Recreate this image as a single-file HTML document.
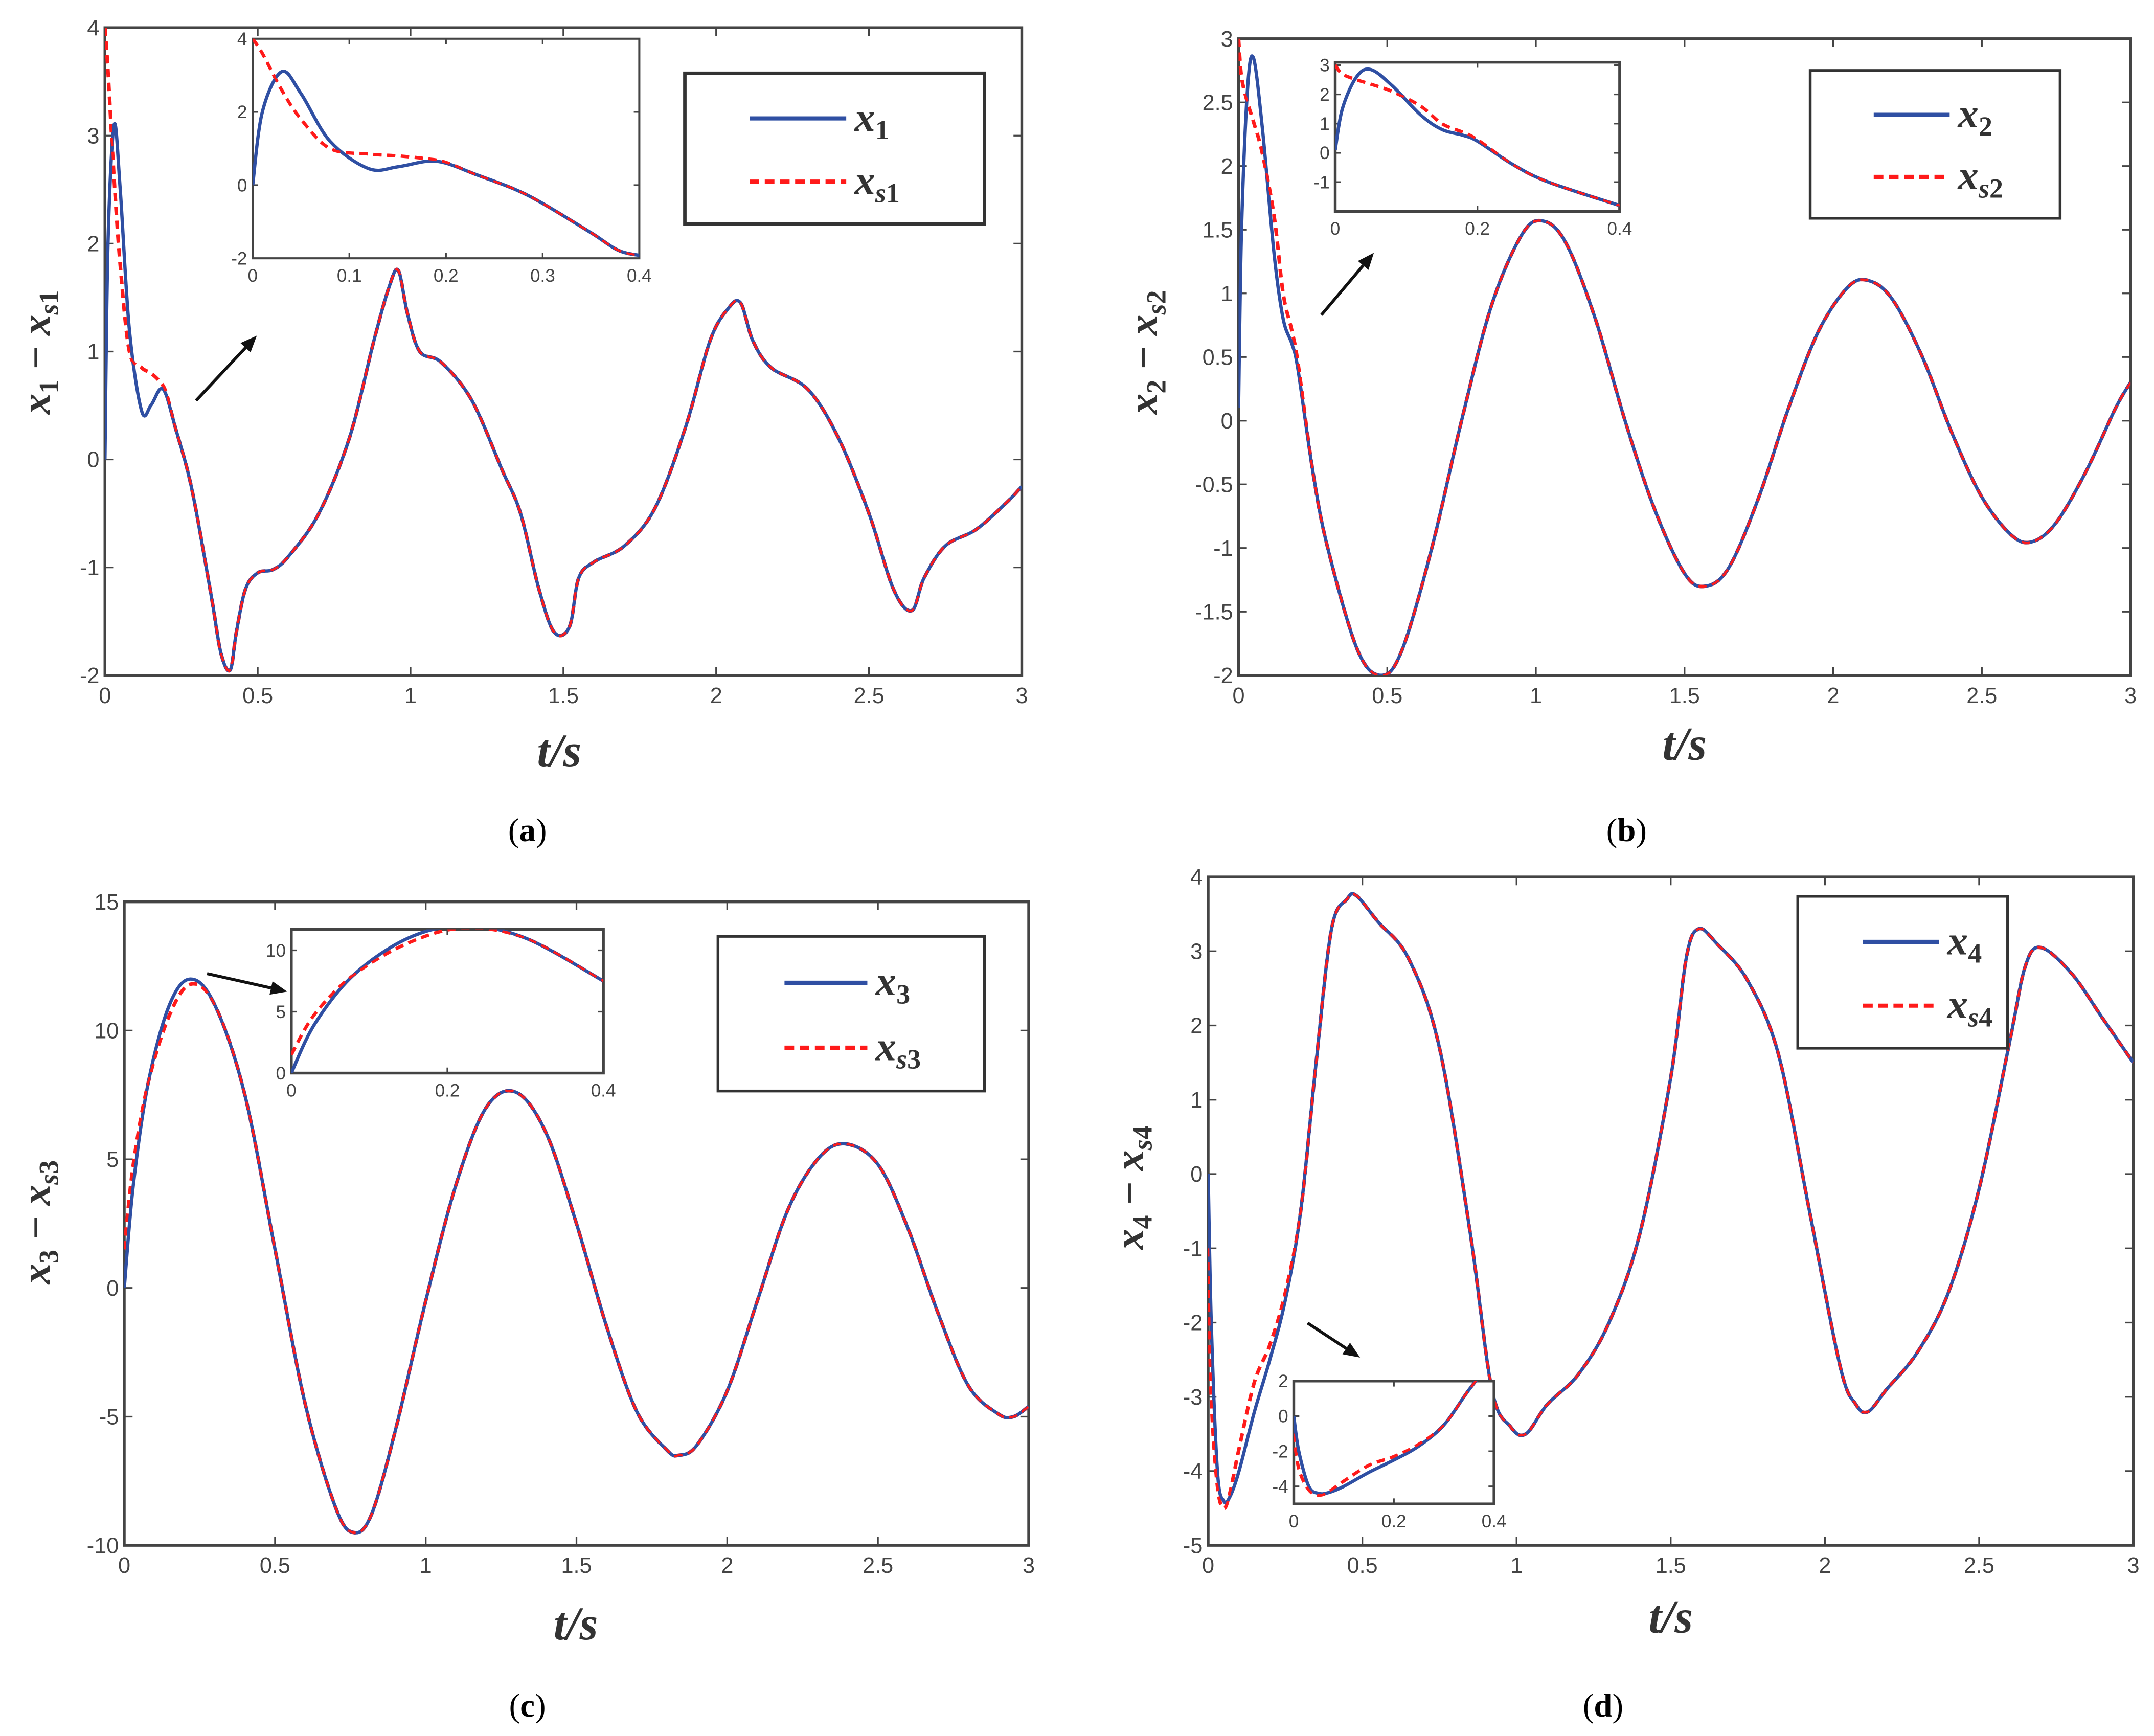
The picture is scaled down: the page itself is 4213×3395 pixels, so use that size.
<!DOCTYPE html>
<html><head><meta charset="utf-8"><title>x vs xs state comparison</title>
<style>
html,body{margin:0;padding:0;background:#fff;}
svg{display:block;}
.tick{font-family:"Liberation Sans",sans-serif;font-size:16px;fill:#444;}
.itick{font-family:"Liberation Sans",sans-serif;font-size:13px;fill:#444;}
.lab{font-family:"Liberation Serif",serif;font-style:italic;font-weight:bold;fill:#333;}
.cap{font-family:"Liberation Serif",serif;font-size:24px;fill:#000;}
</style></head>
<body>
<svg id="fig" width="4213" height="3395" viewBox="0 0 1560 1257" xmlns="http://www.w3.org/2000/svg"></svg>
<script>
// ---- data (a) ----
const tA = [0,0.01,0.03,0.05,0.08,0.12,0.15,0.18,0.2,0.23,0.27,0.3,0.35,0.38,0.41,0.43,0.46,0.5,0.55,0.6,0.7,0.8,0.88,0.93,0.96,0.99,1.03,1.1,1.2,1.3,1.36,1.42,1.47,1.52,1.55,1.6,1.7,1.8,1.9,1.98,2.04,2.08,2.12,2.18,2.3,2.4,2.5,2.58,2.64,2.68,2.75,2.85,2.95,3];
const x1 = [0,2.0,3.1,2.5,1.2,0.45,0.5,0.65,0.6,0.3,-0.1,-0.5,-1.3,-1.8,-1.95,-1.6,-1.2,-1.05,-1.02,-0.9,-0.5,0.2,1.1,1.6,1.75,1.35,1.0,0.9,0.55,-0.1,-0.5,-1.2,-1.6,-1.55,-1.1,-0.95,-0.8,-0.45,0.3,1.1,1.4,1.45,1.1,0.85,0.65,0.2,-0.5,-1.2,-1.4,-1.1,-0.8,-0.65,-0.4,-0.25];
const xs1 = [4,3.6,2.6,1.8,1.0,0.85,0.8,0.72,0.62,0.3,-0.1,-0.5,-1.3,-1.8,-1.95,-1.6,-1.2,-1.05,-1.02,-0.9,-0.5,0.2,1.1,1.6,1.75,1.35,1.0,0.9,0.55,-0.1,-0.5,-1.2,-1.6,-1.55,-1.1,-0.95,-0.8,-0.45,0.3,1.1,1.4,1.45,1.1,0.85,0.65,0.2,-0.5,-1.2,-1.4,-1.1,-0.8,-0.65,-0.4,-0.25];
const yTicksA = [-2,-1,0,1,2,3,4];
// ---- data (b) ----
const tB = [0,0.01,0.03,0.05,0.08,0.12,0.15,0.18,0.2,0.25,0.3,0.4,0.48,0.55,0.65,0.75,0.85,0.95,1.02,1.1,1.2,1.3,1.4,1.5,1.57,1.65,1.75,1.85,1.95,2.05,2.12,2.2,2.3,2.4,2.5,2.6,2.67,2.75,2.85,2.95,3];
const x2 = [0.1,1.5,2.6,2.85,2.3,1.3,0.8,0.6,0.4,-0.4,-1.0,-1.8,-2.0,-1.8,-1.0,0.0,0.9,1.45,1.57,1.4,0.8,0.0,-0.7,-1.2,-1.3,-1.15,-0.6,0.1,0.7,1.05,1.1,0.95,0.5,-0.1,-0.6,-0.9,-0.95,-0.8,-0.4,0.1,0.3];
const xs2 = [3.0,2.7,2.5,2.35,2.1,1.6,1.0,0.7,0.45,-0.4,-1.0,-1.8,-2.0,-1.8,-1.0,0.0,0.9,1.45,1.57,1.4,0.8,0.0,-0.7,-1.2,-1.3,-1.15,-0.6,0.1,0.7,1.05,1.1,0.95,0.5,-0.1,-0.6,-0.9,-0.95,-0.8,-0.4,0.1,0.3];
const yTicksB = [-2,-1.5,-1,-0.5,0,0.5,1,1.5,2,2.5,3];
// ---- data (c) ----
const tC = [0,0.03,0.08,0.15,0.22,0.3,0.4,0.5,0.6,0.7,0.76,0.82,0.9,1.0,1.1,1.2,1.3,1.4,1.5,1.6,1.7,1.8,1.84,1.9,2.0,2.1,2.2,2.3,2.39,2.5,2.6,2.7,2.8,2.9,2.95,3];
const x3 = [0,4,8,11,12,11,7.5,1.5,-4.5,-8.5,-9.5,-8.8,-5.5,-0.5,4,7,7.6,6,2.5,-1.5,-4.8,-6.3,-6.5,-6.1,-4,-0.5,3,5,5.6,4.8,2.3,-1,-3.8,-4.9,-5,-4.6];
const xs3 = [1.5,4.8,8,10.6,11.8,11,7.5,1.5,-4.5,-8.5,-9.5,-8.8,-5.5,-0.5,4,7,7.6,6,2.5,-1.5,-4.8,-6.3,-6.5,-6.1,-4,-0.5,3,5,5.6,4.8,2.3,-1,-3.8,-4.9,-5,-4.6];
const yTicksC = [-10,-5,0,5,10,15];
// ---- data (d) ----
const tD = [0,0.01,0.03,0.05,0.07,0.1,0.15,0.2,0.25,0.3,0.35,0.4,0.45,0.48,0.55,0.65,0.75,0.85,0.92,0.98,1.03,1.1,1.2,1.3,1.4,1.5,1.55,1.59,1.65,1.75,1.85,1.95,2.05,2.1,2.14,2.2,2.3,2.4,2.5,2.6,2.65,2.7,2.8,2.9,3];
const x4 = [0,-2,-4,-4.4,-4.35,-4.0,-3.2,-2.5,-1.7,-0.5,1.5,3.3,3.7,3.75,3.4,2.9,1.7,-0.8,-2.9,-3.4,-3.5,-3.1,-2.7,-2.0,-0.8,1.3,2.9,3.3,3.1,2.6,1.6,-0.5,-2.6,-3.1,-3.2,-2.9,-2.4,-1.6,-0.2,1.8,2.8,3.05,2.7,2.1,1.5];
const xs4 = [-1,-3,-4.2,-4.5,-4.3,-3.7,-2.8,-2.3,-1.6,-0.5,1.5,3.3,3.7,3.75,3.4,2.9,1.7,-0.8,-2.9,-3.4,-3.5,-3.1,-2.7,-2.0,-0.8,1.3,2.9,3.3,3.1,2.6,1.6,-0.5,-2.6,-3.1,-3.2,-2.9,-2.4,-1.6,-0.2,1.8,2.8,3.05,2.7,2.1,1.5];
const yTicksD = [-5,-4,-3,-2,-1,0,1,2,3,4];
const xTicks = [0,0.5,1,1.5,2,2.5,3];

const NS = "http://www.w3.org/2000/svg";
const fig = document.getElementById('fig');
const BLUE = '#2f4fa3', RED = '#ff1a1a', AX = '#444';
let clipId = 0;

function el(tag, attrs, parent){
  const e = document.createElementNS(NS, tag);
  for (const k in attrs) e.setAttribute(k, attrs[k]);
  (parent||fig).appendChild(e);
  return e;
}
function fmt(v){ return String(v); }
function smoothPath(pts){
  let d = 'M' + pts[0][0].toFixed(2) + ',' + pts[0][1].toFixed(2);
  for (let i=0;i<pts.length-1;i++){
    const p0 = pts[i-1]||pts[i], p1=pts[i], p2=pts[i+1], p3=pts[i+2]||p2;
    const c1=[p1[0]+(p2[0]-p0[0])/6, p1[1]+(p2[1]-p0[1])/6];
    const c2=[p2[0]-(p3[0]-p1[0])/6, p2[1]-(p3[1]-p1[1])/6];
    d += 'C'+c1[0].toFixed(2)+','+c1[1].toFixed(2)+' '+c2[0].toFixed(2)+','+c2[1].toFixed(2)+' '+p2[0].toFixed(2)+','+p2[1].toFixed(2);
  }
  return d;
}

function axes(g, box, xr, yr, xt, yt, cls, tl, lw){
  const sx = v => box.x0 + (v - xr[0])/(xr[1]-xr[0])*(box.x1-box.x0);
  const sy = v => box.y1 - (v - yr[0])/(yr[1]-yr[0])*(box.y1-box.y0);
  const fs = cls==='tick'?16:13;
  xt.forEach(v=>{
    const x = sx(v);
    const t1 = el('line',{x1:x,y1:box.y1,x2:x,y2:box.y1-tl,stroke:AX,'stroke-width':1.2},g);
    
    
    el('line',{x1:x,y1:box.y0,x2:x,y2:box.y0+tl,stroke:AX,'stroke-width':1.2},g);
    const tx = el('text',{x:x,y:box.y1+fs+4,'text-anchor':'middle','class':cls},g);
    tx.textContent = fmt(v);
    
    
  });
  yt.forEach(v=>{
    const y = sy(v);
    el('line',{x1:box.x0,y1:y,x2:box.x0+tl,y2:y,stroke:AX,'stroke-width':1.2},g);
    el('line',{x1:box.x1,y1:y,x2:box.x1-tl,y2:y,stroke:AX,'stroke-width':1.2},g);
    const tx = el('text',{x:box.x0-4,y:y+fs*0.35,'text-anchor':'end','class':cls},g);
    tx.textContent = fmt(v);
    
    
  });
  const r = el('rect',{x:box.x0,y:box.y0,width:box.x1-box.x0,height:box.y1-box.y0,fill:'none',stroke:AX,'stroke-width':lw},g);
  
  
  return {sx,sy};
}

function series(g, box, sc, t, ys, xmax, color, dashed, w){
  const cid = 'clip'+(clipId++);
  const cp = el('clipPath',{id:cid},g);
  el('rect',{x:box.x0,y:box.y0,width:box.x1-box.x0,height:box.y1-box.y0},cp);
  const pts=[];
  for(let i=0;i<t.length;i++){ if(t[i]<=xmax+1e-9 || (i>0 && t[i-1]<xmax)) pts.push([sc.sx(t[i]),sc.sy(ys[i])]); }
  const p = el('path',{d:smoothPath(pts),fill:'none',stroke:color,'stroke-width':w,'clip-path':'url(#'+cid+')','stroke-linejoin':'round'},g);
  if(dashed) p.setAttribute('stroke-dasharray','6,4');
  
  
}

function arrow(g,x1,y1,x2,y2){
  const a = el('g',{},g);
  
  
  const ang = Math.atan2(y2-y1,x2-x1), L=12, W=5;
  const bx = x2-L*Math.cos(ang), by=y2-L*Math.sin(ang);
  el('line',{x1:x1,y1:y1,x2:bx,y2:by,stroke:'#111','stroke-width':2.2},a);
  el('polygon',{points:[x2,y2,bx+W*Math.sin(ang),by-W*Math.cos(ang),bx-W*Math.sin(ang),by+W*Math.cos(ang)].join(','),fill:'#111'},a);
}

function panel(cfg){
  const g = el('g',{});
  
  
  const sc = axes(g,cfg.box,[0,3],cfg.yr,xTicks,cfg.yt,'tick',6,2);
  series(g,cfg.box,sc,cfg.t,cfg.ys,3,RED,true,2.6);
  series(g,cfg.box,sc,cfg.t,cfg.y,3,BLUE,false,2.4);
  series(g,cfg.box,sc,cfg.t,cfg.ys,3,RED,true,1.6);
  // inset
  const ig = el('g',{},g);
  
  
  el('rect',{x:cfg.ib.x0,y:cfg.ib.y0,width:cfg.ib.x1-cfg.ib.x0,height:cfg.ib.y1-cfg.ib.y0,fill:'#fff'},ig);
  const isc = axes(ig,cfg.ib,[0,0.4],cfg.iyr,cfg.ixt,cfg.iyt,'itick',4,cfg.ilw);
  series(ig,cfg.ib,isc,cfg.t,cfg.ys,0.4,RED,true,2.4);
  series(ig,cfg.ib,isc,cfg.t,cfg.y,0.4,BLUE,false,2.4);
  series(ig,cfg.ib,isc,cfg.t,cfg.ys,0.4,RED,true,1.6);
  arrow(g,...cfg.arrow);
  // legend
  const L = cfg.leg;
  const lg = el('g',{},g);
  
  
  el('rect',{x:L.x0,y:L.y0,width:L.x1-L.x0,height:L.y1-L.y0,fill:'#fff',stroke:'#333','stroke-width':L.lw},lg);
  const h = L.y1-L.y0, ly1 = L.y0+h*0.3, ly2 = L.y0+h*0.72;
  const e1 = el('line',{x1:L.x0+h*0.43,y1:ly1,x2:L.x0+h*0.43+L.len,y2:ly1,stroke:BLUE,'stroke-width':3},lg);
  
  
  const e2 = el('line',{x1:L.x0+h*0.43,y1:ly2,x2:L.x0+h*0.43+L.len,y2:ly2,stroke:RED,'stroke-width':3,'stroke-dasharray':'7,4'},lg);
  
  
  const tx = L.x0+h*0.43+L.len+6;
  const t1 = el('text',{x:tx,y:ly1+9,'class':'lab','font-size':30},lg);
  t1.innerHTML = 'x<tspan font-size="20" dy="6" font-style="normal">'+cfg.n+'</tspan>';
  const t2 = el('text',{x:tx,y:ly2+9,'class':'lab','font-size':30},lg);
  t2.innerHTML = 'x<tspan font-size="20" dy="6">s'+'</tspan><tspan font-size="20" font-style="normal">'+cfg.n+'</tspan>';
  // axis labels
  const yl = el('text',{x:0,y:0,'class':'lab','font-size':30,'text-anchor':'middle',transform:'translate('+cfg.ylab[0]+','+cfg.ylab[1]+') rotate(-90)'},g);
  yl.innerHTML = 'x<tspan font-size="20" dy="6" font-style="normal">'+cfg.n+'</tspan><tspan dy="-6" font-style="normal"> − </tspan>x<tspan font-size="20" dy="6">s</tspan><tspan font-size="20" font-style="normal">'+cfg.n+'</tspan>';
  
  
  const xl = el('text',{x:cfg.xlab[0],y:cfg.xlab[1],'class':'lab','font-size':34,'text-anchor':'middle'},g);
  xl.textContent = 't/s';
  
  
  const cp = el('text',{x:cfg.cap[0],y:cfg.cap[1],'class':'cap','text-anchor':'middle'},g);
  cp.innerHTML = '(<tspan font-weight="bold">'+cfg.id+'</tspan>)';
  
  
}

panel({id:'a',n:'1',t:tA,y:x1,ys:xs1,yr:[-2,4],yt:yTicksA,box:{x0:76,x1:740,y0:20,y1:489},
  ib:{x0:183,x1:463,y0:28,y1:187},iyr:[-2,4],iyt:[-2,0,2,4],ixt:[0,0.1,0.2,0.3,0.4],ilw:1.5,
  arrow:[142,290,186,243],leg:{x0:496,x1:713,y0:53,y1:162,lw:2.5,len:70},ylab:[36,255],xlab:[405,555],cap:[382,609]});
panel({id:'b',n:'2',t:tB,y:x2,ys:xs2,yr:[-2,3],yt:yTicksB,box:{x0:897,x1:1543,y0:28,y1:489},
  ib:{x0:967,x1:1173,y0:45,y1:153},iyr:[-2,3.1],iyt:[-1,0,1,2,3],ixt:[0,0.2,0.4],ilw:2,
  arrow:[957,228,995,183],leg:{x0:1311,x1:1492,y0:51,y1:158,lw:2,len:55},ylab:[838,255],xlab:[1220,550],cap:[1178,609]});
panel({id:'c',n:'3',t:tC,y:x3,ys:xs3,yr:[-10,15],yt:yTicksC,box:{x0:90,x1:745,y0:653,y1:1119},
  ib:{x0:211,x1:437,y0:673,y1:777},iyr:[0,11.7],iyt:[0,5,10],ixt:[0,0.2,0.4],ilw:2,
  arrow:[150,705,208,718],leg:{x0:520,x1:713,y0:678,y1:790,lw:2,len:60},ylab:[36,885],xlab:[417,1187],cap:[382,1243]});
panel({id:'d',n:'4',t:tD,y:x4,ys:xs4,yr:[-5,4],yt:yTicksD,box:{x0:875,x1:1545,y0:635,y1:1119},
  ib:{x0:937,x1:1082,y0:1000,y1:1089},iyr:[-5,2],iyt:[-4,-2,0,2],ixt:[0,0.2,0.4],ilw:2,
  arrow:[947,958,985,983],leg:{x0:1302,x1:1454,y0:649,y1:759,lw:2,len:55},ylab:[828,860],xlab:[1210,1182],cap:[1161,1243]});
</script>
</body></html>
